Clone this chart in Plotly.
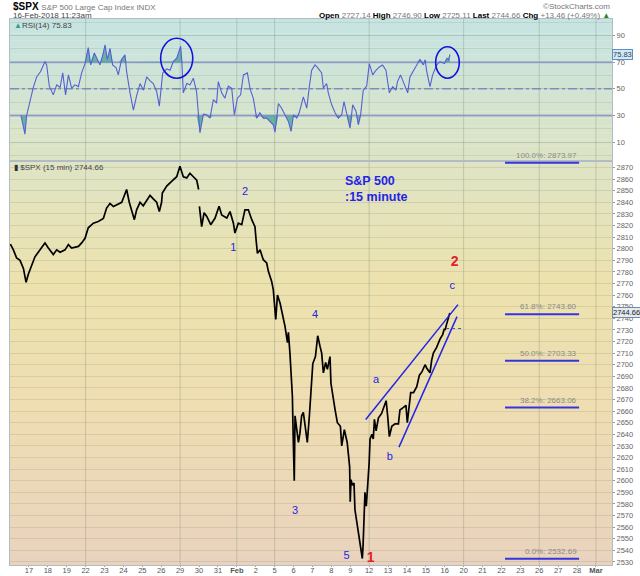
import numpy as np
import plotly.graph_objects as go
from plotly.subplots import make_subplots

# x = trading day index (0 = 16-Jan-2018 open), fractions = time of day
rsi_x = [0.58, 0.79, 0.88, 1.06, 1.23, 1.41, 1.62, 1.85, 1.94, 2.08, 2.29, 2.47, 2.65, 2.79, 2.94,
         3.09, 3.26, 3.44, 3.62, 3.79, 3.97, 4.14, 4.27, 4.46, 4.67, 4.76, 4.90, 5.03, 5.15, 5.29,
         5.43, 5.61, 5.73, 5.90, 6.08, 6.17, 6.35, 6.53, 6.70, 6.88, 7.06, 7.23, 7.41, 7.58, 7.76,
         7.90, 8.08, 8.29, 8.47, 8.64, 8.82, 8.96, 9.03, 9.09, 9.17, 9.35, 9.52, 9.70, 9.87, 10.05,
         10.23, 10.41, 10.58, 10.76, 10.93, 11.02, 11.20, 11.37, 11.55, 11.73, 11.87, 12.03, 12.20,
         12.35, 12.56, 12.70, 12.87, 13.05, 13.22, 13.40, 13.58, 13.75, 13.93, 14.02, 14.20, 14.37,
         14.55, 14.73, 14.87, 15.00, 15.17, 15.30, 15.52, 15.70, 15.84, 15.96, 16.14, 16.23, 16.49,
         16.58, 16.75, 16.84, 17.02, 17.20, 17.37, 17.55, 17.67, 17.81, 17.99, 18.13, 18.31, 18.43,
         18.55, 18.69, 18.87, 19.01, 19.19, 19.36, 19.54, 19.71, 19.89, 20.07, 20.25, 20.42, 20.50,
         20.66, 20.84, 21.04, 21.16, 21.34, 21.52, 21.69, 21.87, 21.96, 22.05, 22.22, 22.36, 22.58,
         22.75, 22.98, 23.12, 23.20, 23.28]
rsi_y = [30, 16, 30, 42, 51, 59, 63, 70.5, 68, 52, 45.5, 53, 51, 62, 45.5,
         60.5, 50.5, 53, 51.7, 62, 69, 81, 68, 77, 70.5, 68, 75, 83, 72, 80.5,
         68, 66, 60.5, 72, 75.5, 63, 47, 34, 45, 54, 49, 59, 56, 54, 48,
         37, 62, 65, 64, 70.5, 73, 78, 82, 71, 47, 54, 53, 58, 48, 17,
         31, 30.5, 28, 42, 39.3, 55.5, 47, 43, 52, 50.5, 30.5, 43, 45.5,
         60.5, 62, 50, 43, 28, 32, 28, 28, 25.5, 23, 17.5, 39, 35.5,
         30.5, 25.5, 18, 30.5, 28, 32, 44, 35.5, 52, 64, 68, 66.7, 62,
         50.5, 54, 47, 38, 32, 28, 30.5, 40.5, 32, 20.5, 38, 33, 23,
         30.5, 49, 52, 69, 60.5, 64, 66.5, 68, 64, 47, 51.7, 49, 55.5,
         60.5, 54, 47, 59, 63, 68, 72, 68, 71.8, 63, 51.7, 60.5, 68,
         70.5, 69, 73, 72, 75.83]

spx_x = [0.02, 0.18, 0.35, 0.53, 0.71, 0.85, 0.97, 1.15, 1.32, 1.59, 1.85, 2.01, 2.29, 2.47, 2.65,
         2.91, 3.09, 3.26, 3.62, 3.79, 3.97, 4.14, 4.41, 4.67, 4.94, 5.11, 5.29, 5.47, 5.73, 5.91,
         6.03, 6.17, 6.31, 6.44, 6.58, 6.70, 6.88, 7.05, 7.23, 7.41, 7.58, 7.76, 7.90, 8.02, 8.06,
         8.29, 8.55, 8.82, 8.99, 9.17, 9.35, 9.52, 9.70, 9.88, 9.98, None,
         10.02, 10.14, 10.27, 10.41, 10.62, 10.85, 11.06, 11.20, 11.47, 11.64, 11.82, 11.90, 12.08,
         12.26, 12.43, 12.61, 12.79, 12.96, 13.02, 13.09, 13.23, 13.40, 13.58, 13.67, 13.84, 13.93,
         14.06, 14.15, 14.29, 14.41, 14.55, 14.68, 14.73, 14.81, 14.87, 14.94, 14.98,
         15.02, 15.04, 15.08, 15.17, 15.26, 15.34, 15.43, 15.52, 15.60, 15.73, 15.84, 15.93, 16.02,
         16.16, 16.28, 16.40, 16.49, 16.58, 16.70, 16.79, 16.93, 16.98,
         17.07, 17.20, 17.32, 17.48, 17.55, 17.69, 17.84, 17.90, 17.97, 18.00,
         18.04, 18.12, 18.20, 18.25, 18.38, 18.49, 18.60, 18.64, 18.68, 18.78, 18.85, 18.92, 19.00,
         19.05, 19.15, 19.22, 19.28, 19.37, 19.49, 19.66, 19.79, 19.90, 19.98,
         20.02, 20.07, 20.20, 20.37, 20.55, 20.63, 20.80, 20.95,
         21.02, 21.20, 21.35, 21.52, 21.66, 21.80, 21.96,
         22.05, 22.22, 22.31, 22.40, 22.57, 22.75, 22.89, 22.98,
         23.02, 23.10, 23.21, 23.27]
spx_close = [2804, 2799, 2792, 2790, 2783, 2771, 2778, 2785, 2793, 2799, 2805, 2801, 2795, 2799, 2797,
             2799, 2803.5, 2800.6, 2802, 2805, 2809, 2818, 2822, 2823.5, 2826, 2835, 2839, 2836.4, 2838.5, 2840,
             2845, 2851, 2840, 2833.5, 2825, 2833.5, 2840, 2837, 2842, 2846, 2843, 2840, 2832, 2840, 2848,
             2854, 2858, 2862, 2871, 2862, 2861, 2865, 2862, 2859, 2851, None,
             2836.5, 2819, 2831, 2827.8, 2820.7, 2826.4, 2836.5, 2829, 2826.4, 2832, 2822, 2813.5, 2822,
             2820.7, 2833.5, 2833.5, 2825, 2819, 2807.6, 2796, 2799, 2790.5, 2787.7, 2780.5, 2772, 2764.7,
             2739, 2760, 2753, 2745, 2733, 2719, 2728, 2710, 2690, 2673, 2640,
             2621, 2600, 2656, 2644, 2633, 2641, 2656, 2659, 2649, 2633, 2656, 2684, 2701,
             2707, 2725, 2716, 2710, 2693, 2702, 2696, 2707, 2684,
             2673, 2661, 2650, 2647, 2630, 2644, 2633, 2621, 2612, 2582,
             2601, 2596, 2598, 2575, 2562, 2550, 2539, 2533, 2544, 2590, 2578, 2593, 2615,
             2636, 2640, 2636, 2653, 2643, 2654, 2658, 2664, 2669, 2656,
             2650, 2638, 2647, 2649, 2649, 2661, 2663, 2665,
             2650, 2676, 2676, 2681, 2691, 2694, 2700,
             2697, 2693, 2704, 2710, 2715, 2722, 2726, 2731,
             2730, 2735, 2743, 2744.66]

day_ticks = list(range(1, 32))
day_labels = ["17", "18", "19", "22", "23", "24", "25", "26", "29", "30", "31", "<b>Feb</b>",
              "2", "5", "6", "7", "8", "9", "12", "13", "14", "15", "16",
              "20", "21", "22", "23", "26", "27", "28", "<b>Mar</b>"]
week_lines = [4, 9, 12, 14, 19, 24, 28, 31]

fib_pct = ["100.0%", "61.8%", "50.0%", "38.2%", "0.0%"]
fib_lvl = [2873.97, 2743.60, 2703.33, 2663.06, 2532.69]
fib_x = [26.19, 30.11]

wedge_upper_x = [18.82, 23.70]
wedge_upper_y = [2652.8, 2751.8]
wedge_lower_x = [20.58, 23.65]
wedge_lower_y = [2629.0, 2741.5]
prev_close_x = [23.07, 23.97]
prev_close = 2731.2

wave_x = [12.43, 11.81, 16.14, 15.08, 17.81, 19.37, 20.10, 23.40]
wave_y = [2848.5, 2800, 2743, 2574, 2534.6, 2686.7, 2620, 2767.6]
wave_txt = ["2", "1", "4", "3", "5", "a", "b", "c"]
big_x = [19.08, 23.53]
big_y = [2533, 2788]
big_txt = ["1", "2"]

# circles on RSI: x0, x1, y0, y1
circles = [(7.97, 9.67, 58, 88), (22.52, 23.77, 58, 81.7)]

FONT = "Liberation Sans, Arial, sans-serif"
BLUE = "#2424e6"

fig = make_subplots(rows=2, cols=1, shared_xaxes=True, vertical_spacing=0,
                    row_heights=[142, 405])

rsi = np.array(rsi_y, dtype=float)
# overbought / oversold shading
fig.add_trace(go.Scatter(x=rsi_x, y=[70] * len(rsi_x), mode="lines", line=dict(width=0),
                         hoverinfo="skip", showlegend=False), row=1, col=1)
fig.add_trace(go.Scatter(x=rsi_x, y=np.maximum(rsi, 70), mode="lines", line=dict(width=0),
                         fill="tonexty", fillcolor="rgba(70,160,150,0.75)",
                         hoverinfo="skip", showlegend=False), row=1, col=1)
fig.add_trace(go.Scatter(x=rsi_x, y=[30] * len(rsi_x), mode="lines", line=dict(width=0),
                         hoverinfo="skip", showlegend=False), row=1, col=1)
fig.add_trace(go.Scatter(x=rsi_x, y=np.minimum(rsi, 30), mode="lines", line=dict(width=0),
                         fill="tonexty", fillcolor="rgba(70,160,150,0.75)",
                         hoverinfo="skip", showlegend=False), row=1, col=1)
fig.add_trace(go.Scatter(x=rsi_x, y=rsi_y, mode="lines", line=dict(color="#5560d2", width=1.1),
                         showlegend=False), row=1, col=1)

# price
fig.add_trace(go.Scatter(x=spx_x, y=spx_close, mode="lines", line=dict(color="black", width=1.7),
                         connectgaps=False, showlegend=False), row=2, col=1)

annots = []
for p, lv in zip(fib_pct, fib_lvl):
    fig.add_trace(go.Scatter(x=fib_x, y=[lv, lv], mode="lines", line=dict(color="#3535e0", width=2),
                             showlegend=False, hoverinfo="skip"), row=2, col=1)
    annots.append(dict(x=fib_x[1], y=lv, xref="x2", yref="y2", text=f"{p}: {lv:.2f}",
                       showarrow=False, xanchor="right", yanchor="bottom", yshift=1,
                       font=dict(family=FONT, size=8, color="#8a8a8a")))

fig.add_trace(go.Scatter(x=wedge_upper_x, y=wedge_upper_y, mode="lines",
                         line=dict(color=BLUE, width=1.5), showlegend=False), row=2, col=1)
fig.add_trace(go.Scatter(x=wedge_lower_x, y=wedge_lower_y, mode="lines",
                         line=dict(color=BLUE, width=1.5), showlegend=False), row=2, col=1)
fig.add_trace(go.Scatter(x=prev_close_x, y=[prev_close, prev_close], mode="lines",
                         line=dict(color="#4a4ae8", width=1, dash="dot"), showlegend=False), row=2, col=1)

# wave counts drawn as text marks
fig.add_trace(go.Scatter(x=wave_x, y=wave_y, mode="text", text=wave_txt, textposition="middle center",
                         textfont=dict(family=FONT, size=11, color=BLUE), hoverinfo="skip",
                         showlegend=False, cliponaxis=False), row=2, col=1)
fig.add_trace(go.Scatter(x=big_x, y=big_y, mode="text", text=["<b>%s</b>" % t for t in big_txt],
                         textposition="middle center", textfont=dict(family=FONT, size=14, color="#e4202a"),
                         hoverinfo="skip", showlegend=False, cliponaxis=False), row=2, col=1)

# gradient backgrounds
def blend(stops, t):
    for (t0, c0), (t1, c1) in zip(stops[:-1], stops[1:]):
        if t0 <= t <= t1:
            f = (t - t0) / (t1 - t0)
            return "rgb(%d,%d,%d)" % tuple(round(a + (b - a) * f) for a, b in zip(c0, c1))
    return "rgb(%d,%d,%d)" % stops[-1][1]

shapes = []
rsi_stops = [(0, (198, 228, 226)), (1, (222, 228, 196))]
spx_stops = [(0, (222, 228, 198)), (0.3, (236, 226, 174)), (0.6, (238, 222, 178)), (1, (233, 211, 190))]
for ref, stops, n in [("", rsi_stops, 20), ("2", spx_stops, 45)]:
    for i in range(n):
        shapes.append(dict(type="rect", xref=f"x{ref} domain", yref=f"y{ref} domain",
                           x0=0, x1=1, y0=1 - (i + 1) / n - 0.002, y1=1 - i / n,
                           fillcolor=blend(stops, (i + 0.5) / n), line=dict(width=0), layer="below"))
for w in week_lines:
    for ref in ["", "2"]:
        shapes.append(dict(type="line", xref=f"x{ref}", yref=f"y{ref} domain", x0=w, x1=w, y0=0, y1=1,
                           line=dict(color="rgba(130,140,120,0.35)", width=1), layer="below"))
for lv, dash, col, wd in [(70, "solid", "#9ba6d6", 2), (30, "solid", "#9ba6d6", 2), (50, "dashdot", "#5a68cc", 1)]:
    shapes.append(dict(type="line", xref="x domain", yref="y", x0=0, x1=1, y0=lv, y1=lv,
                       line=dict(color=col, width=wd, dash=dash), layer="below"))
for x0, x1, y0, y1 in circles:
    shapes.append(dict(type="circle", xref="x", yref="y", x0=x0, x1=x1, y0=y0, y1=y1,
                       line=dict(color="#1212dd", width=1.6)))

annots.append(dict(x=17.62, y=2866, xref="x2", yref="y2", text="<b>S&P 500<br>:15 minute</b>",
                   showarrow=False, xanchor="left", yanchor="top", align="left",
                   font=dict(family=FONT, size=12.5, color=BLUE)))
# headers
annots.append(dict(x=0, y=1, xref="paper", yref="paper", xanchor="left", yanchor="middle", yshift=13, xshift=1,
                   showarrow=False, font=dict(family=FONT, size=10, color="black"),
                   text="<b>$SPX</b> <span style='font-size:8px;color:#777'>S&P 500 Large Cap Index INDX</span>"))
annots.append(dict(x=0, y=1, xref="paper", yref="paper", xanchor="left", yanchor="middle", yshift=4, xshift=1,
                   showarrow=False, font=dict(family=FONT, size=8, color="#444"),
                   text="16-Feb-2018 11:23am"))
annots.append(dict(x=1, y=1, xref="paper", yref="paper", xanchor="right", yanchor="middle", yshift=13,
                   showarrow=False, font=dict(family=FONT, size=8, color="#777"), text="©StockCharts.com"))
g = "<span style='color:#777'>"
annots.append(dict(x=1, y=1, xref="paper", yref="paper", xanchor="right", yanchor="middle", yshift=4,
                   showarrow=False, font=dict(family=FONT, size=8, color="black"),
                   text=f"<b>Open</b> {g}2727.14</span> <b>High</b> {g}2746.90</span> <b>Low</b> {g}2725.11</span> "
                        f"<b>Last</b> {g}2744.66</span> <b>Chg</b> {g}+13.46 (+0.49%)</span> <span style='color:#2a8a2a'>▲</span>"))
annots.append(dict(x=0, y=1, xref="x domain", yref="y domain", xanchor="left", yanchor="top", xshift=2, yshift=0,
                   showarrow=False, font=dict(family=FONT, size=8, color="#444"),
                   text="<span style='color:#3a9a9a'>▲</span>RSI(14) 75.83"))
annots.append(dict(x=0, y=1, xref="x2 domain", yref="y2 domain", xanchor="left", yanchor="top", xshift=2, yshift=0,
                   showarrow=False, font=dict(family=FONT, size=8, color="#444"),
                   text="<span style='color:#333'>▮</span> $SPX (15 min) 2744.66"))
annots.append(dict(x=1, y=rsi_y[-1], xref="x domain", yref="y", xanchor="left", yanchor="middle",
                   showarrow=False, text="75.83", bgcolor="#d2e8f4", bordercolor="#5d8fc8", borderwidth=1,
                   borderpad=0, font=dict(family=FONT, size=7.5, color="#345")))
annots.append(dict(x=1, y=spx_close[-1], xref="x2 domain", yref="y2", xanchor="left", yanchor="middle",
                   showarrow=False, text="2744.66", bgcolor="#e4eaf0", bordercolor="#6d8aa8", borderwidth=1,
                   borderpad=0, font=dict(family=FONT, size=7.5, color="#222")))

frame = "#b2bcc6"
fig.update_layout(width=640, height=576, margin=dict(l=10, r=28, t=19, b=11),
                  paper_bgcolor="white", plot_bgcolor="rgba(0,0,0,0)", showlegend=False,
                  shapes=shapes, font=dict(family=FONT, size=8, color="#555"))
fig.layout.annotations = annots
fig.update_xaxes(range=[0, 31.85], showgrid=False, zeroline=False, showline=True, mirror=True,
                 linecolor=frame, automargin=False)
fig.update_xaxes(tickvals=day_ticks, ticktext=day_labels, ticks="outside", ticklen=1, tickcolor="#999",
                 ticklabelstandoff=-3,
                 tickfont=dict(family=FONT, size=7.5, color="#555"), tickangle=0, row=2, col=1)
fig.update_yaxes(side="right", zeroline=False, showline=True, mirror=True, linecolor=frame,
                 ticks="outside", ticklen=2, tickcolor="#999", automargin=False,
                 tickfont=dict(family=FONT, size=7.5, color="#666"))
fig.update_yaxes(range=[-4, 102.5], tickvals=[10, 30, 50, 70, 90], showgrid=True,
                 gridcolor="rgba(110,140,130,0.18)",
                 minor=dict(dtick=10, tick0=0, showgrid=True, gridcolor="rgba(110,140,130,0.18)"),
                 row=1, col=1)
fig.update_yaxes(range=[2527.4, 2875.8], tick0=2530, dtick=10, showgrid=True,
                 gridcolor="rgba(140,130,90,0.2)", row=2, col=1)

# drop the browser's default page margin so the 640x576 figure fills the window exactly
fig.write_html("out.html", config={"displayModeBar": False},
               post_script="document.body.style.margin='0';document.body.style.overflow='hidden';")
